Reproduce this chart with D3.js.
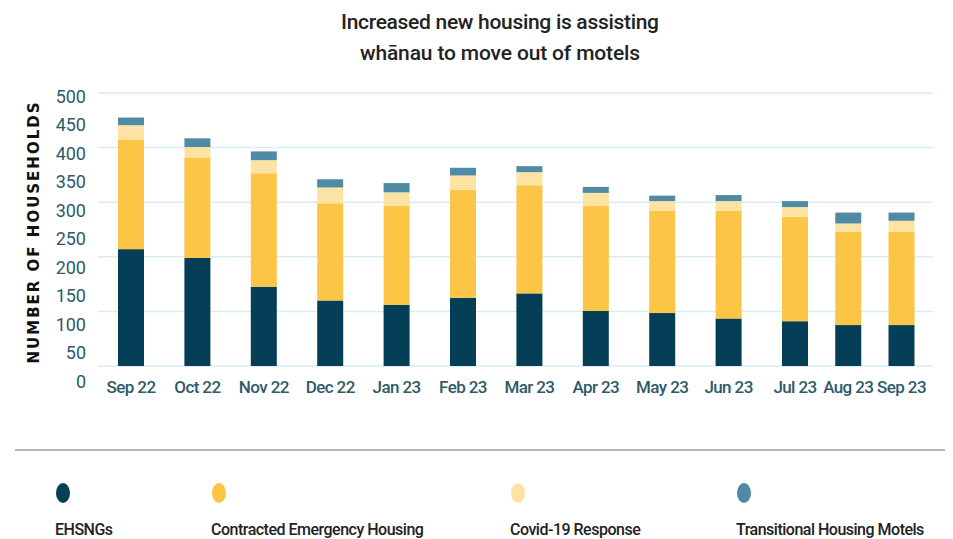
<!DOCTYPE html>
<html>
<head>
<meta charset="utf-8">
<script src="https://cdn.jsdelivr.net/npm/d3@7"></script>
<style>
  body { margin: 0; background: #fff; }
  svg { display: block; font-family: Roboto, sans-serif; }
</style>
</head>
<body>
<div id="chart"></div>
<script>
const months = ['Sep 22', 'Oct 22', 'Nov 22', 'Dec 22', 'Jan 23', 'Feb 23', 'Mar 23',
  'Apr 23', 'May 23', 'Jun 23', 'Jul 23', 'Aug 23', 'Sep 23'];
const ehsngs = [214, 198, 145, 120, 112, 125, 133, 101, 97, 87, 82, 75, 75];
const contracted = [201, 184, 208, 178, 182, 198, 198, 193, 187, 197, 191, 171, 171];
const covid = [26, 19, 24, 29, 24, 26, 24, 23, 18, 18, 18, 15, 20];
const transitional = [14, 16, 16, 15, 17, 14, 11, 11, 10, 11, 11, 20, 15];
const seriesNames = ['EHSNGs', 'Contracted Emergency Housing', 'Covid-19 Response', 'Transitional Housing Motels'];
const colors = ['#053f57', '#fcc545', '#fde3a3', '#4f8ba4'];
const gridTicks = [0, 100, 200, 300, 400, 500];
const labelTicks = [0, 50, 100, 150, 200, 250, 300, 350, 400, 450, 500];

const width = 953;
const height = 539;

const svg = d3.select('#chart').append('svg')
  .attr('width', width)
  .attr('height', height);

const rows = months.map((m, i) => ({
  month: m,
  idx: i,
  s0: ehsngs[i],
  s1: contracted[i],
  s2: covid[i],
  s3: transitional[i],
}));

const stack = d3.stack().keys(['s0', 's1', 's2', 's3']);
const stacked = stack(rows);

// bars sit on the gridlines, the tick labels drift off them in the original
const yScale = d3.scaleLinear().domain([0, 500]).range([366, 93]);
const yLabel = d3.scaleLinear().domain([0, 500]).range([381.5, 96.5]);
// the last two columns are packed tighter than the rest
const xScale = d3.scaleLinear().domain([0, 10, 12]).range([131, 795, 901.5]);
const barW = 26;

// title
const title = svg.append('g')
  .attr('font-size', 21)
  .attr('font-weight', 500)
  .attr('fill', '#222')
  .attr('text-anchor', 'middle');
title.append('text').attr('x', 500).attr('y', 29)
  .attr('textLength', 318)
  .text('Increased new housing is assisting');
title.append('text').attr('x', 500).attr('y', 60)
  .attr('textLength', 280)
  .text('whānau to move out of motels');

// gridlines
svg.append('g')
  .selectAll('line')
  .data(gridTicks)
  .enter()
  .append('line')
  .attr('x1', 98)
  .attr('x2', 933)
  .attr('y1', d => yScale(d))
  .attr('y2', d => yScale(d))
  .attr('stroke', '#d8ecf1')
  .attr('stroke-width', 1.5);

// y tick labels
svg.append('g')
  .selectAll('text')
  .data(labelTicks)
  .enter()
  .append('text')
  .attr('x', 86)
  .attr('y', d => yLabel(d))
  .attr('dy', '0.35em')
  .attr('text-anchor', 'end')
  .attr('font-size', 18)
  .attr('fill', '#2f5a6b')
  .text(d => d);

// y axis title
svg.append('text')
  .attr('transform', 'translate(39,232) rotate(-90)')
  .attr('text-anchor', 'middle')
  .attr('font-family', 'DejaVu Sans, sans-serif')
  .attr('font-weight', 'bold')
  .attr('font-size', 15)
  .attr('letter-spacing', 2)
  .attr('fill', '#111')
  .text('NUMBER OF HOUSEHOLDS');

// bars
svg.append('g')
  .selectAll('g')
  .data(stacked)
  .enter()
  .append('g')
  .attr('fill', (d, i) => colors[i])
  .selectAll('rect')
  .data(d => d)
  .enter()
  .append('rect')
  .attr('x', d => xScale(d.data.idx) - barW / 2)
  .attr('width', barW)
  .attr('y', d => yScale(d[1]))
  .attr('height', d => yScale(d[0]) - yScale(d[1]));

// x labels
svg.append('g')
  .selectAll('text')
  .data(rows)
  .enter()
  .append('text')
  .attr('x', d => xScale(d.idx))
  .attr('y', 393)
  .attr('text-anchor', 'middle')
  .attr('font-size', 17)
  .attr('font-weight', 500)
  .attr('letter-spacing', -0.6)
  .attr('fill', '#2f5a6b')
  .text(d => d.month);

// separator
svg.append('line')
  .attr('x1', 15)
  .attr('x2', 945)
  .attr('y1', 450)
  .attr('y2', 450)
  .attr('stroke', '#b5b5b5')
  .attr('stroke-width', 2);

// legend
const legendX = d3.scaleOrdinal().domain(seriesNames).range([55, 211, 510, 736]);
const legend = svg.append('g')
  .selectAll('g')
  .data(seriesNames)
  .enter()
  .append('g')
  .attr('transform', d => `translate(${legendX(d)},0)`);

legend.append('ellipse')
  .attr('cx', 8)
  .attr('cy', 493)
  .attr('rx', 7)
  .attr('ry', 10)
  .attr('fill', (d, i) => colors[i]);

legend.append('text')
  .attr('x', 0)
  .attr('y', 535)
  .attr('font-size', 16)
  .attr('font-weight', 500)
  .attr('letter-spacing', -0.5)
  .attr('fill', '#222')
  .text(d => d);
</script>
</body>
</html>
